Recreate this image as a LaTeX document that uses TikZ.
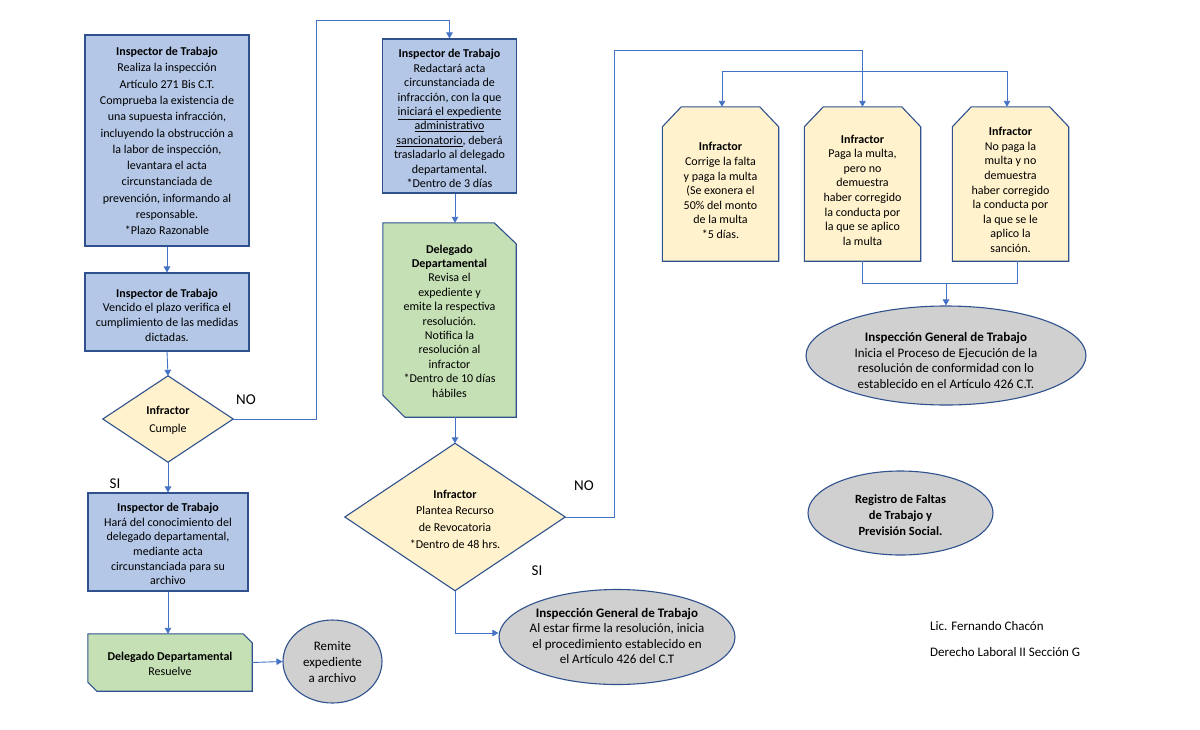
\documentclass[tikz,border=0pt]{standalone}
\usepackage{fontspec}
\setmainfont{Carlito}
\usetikzlibrary{arrows.meta,calc,shapes.geometric}
\definecolor{bluefill}{HTML}{B4C7E7}
\definecolor{greenfill}{HTML}{C5E0B4}
\definecolor{yellowfill}{HTML}{FFF2CC}
\definecolor{grayfill}{HTML}{D0D0D0}
\definecolor{edgeblue}{HTML}{2F528F}
\definecolor{connblue}{HTML}{4472C4}
\tikzset{
  every node/.style={font=\fontsize{12}{14.6}\selectfont},
  shapebox/.style={rectangle, inner sep=0pt, draw=none},
  bluebox/.style={rectangle, inner sep=0pt, draw=edgeblue, fill=bluefill, line width=1.1pt},
  grayell/.style={ellipse, inner sep=0pt, draw=edgeblue, fill=grayfill, line width=1.1pt},
  outline/.style={draw=edgeblue, line width=1.1pt, line join=miter},
  txt/.style={align=center, inner sep=0pt},
  conn/.style={draw=connblue, line width=0.9pt},
  arr/.style={conn, -{Triangle[length=6pt,width=6.5pt]}},
  lbl/.style={font=\fontsize{15}{16}\selectfont, inner sep=0pt}
}
\begin{document}
\begin{tikzpicture}[x=1pt,y=-1pt]
\useasboundingbox (0,0) rectangle (1200,729);

% ---------- left column ----------
\node[bluebox, minimum width=164, minimum height=211] (A) at (167,140.5) {};
\node[txt, font=\fontsize{12}{16.3}\selectfont] at (167,141) {\textbf{Inspector de Trabajo}\\Realiza la inspección\\Artículo 271 Bis C.T.\\Comprueba la existencia de\\una supuesta infracción,\\incluyendo la obstrucción a\\la labor de inspección,\\levantara el acta\\circunstanciada de\\prevención, informando al\\responsable.\\*Plazo Razonable};

\node[bluebox, minimum width=164, minimum height=78] (B) at (167,312) {};
\node[txt] at (167,315) {\textbf{Inspector de Trabajo}\\Vencido el plazo verifica el\\cumplimiento de las medidas\\dictadas.};

\node[shapebox, minimum width=130, minimum height=86] (C) at (168,419) {};
\draw[outline, fill=yellowfill] (C.north) -- (C.east) -- (C.south) -- (C.west) -- cycle;
\node[txt, font=\fontsize{12}{18}\selectfont] at (168,420) {\textbf{Infractor}\\Cumple};

\node[bluebox, minimum width=160, minimum height=98] (D) at (168,542) {};
\node[txt] at (168,544) {\textbf{Inspector de Trabajo}\\Hará del conocimiento del\\delegado departamental,\\mediante acta\\circunstanciada para su\\archivo};

\node[shapebox, minimum width=164, minimum height=57] (E) at (170,662.5) {};
\draw[outline, fill=greenfill] (E.north west) -- ($(E.north east)+(-9,0)$) -- ($(E.north east)+(0,9)$) -- (E.south east) -- ($(E.south west)+(9,0)$) -- ($(E.south west)+(0,-9)$) -- cycle;
\node[txt] at (170,664) {\textbf{Delegado Departamental}\\Resuelve};

\node[grayell, minimum width=99, minimum height=83] (F) at (332.5,661.5) {};
\node[txt, font=\fontsize{13}{16}\selectfont] at (332.5,662) {Remite\\expediente\\a archivo};

% ---------- middle column ----------
\node[bluebox, minimum width=134, minimum height=154] (G) at (449.5,116) {};
\node[txt, font=\fontsize{12}{14.4}\selectfont] at (449.5,118.5) {\textbf{Inspector de Trabajo}\\Redactará acta\\circunstanciada de\\infracción, con la que\\\underline{iniciará el expediente}\\\underline{administrativo}\\\underline{sancionatorio}, deberá\\trasladarlo al delegado\\departamental.\\*Dentro de 3 días};

\node[shapebox, minimum width=133, minimum height=194] (H) at (449.5,320) {};
\draw[outline, fill=greenfill] (H.north west) -- ($(H.north east)+(-22,0)$) -- ($(H.north east)+(0,21)$) -- (H.south east) -- ($(H.south west)+(22,0)$) -- ($(H.south west)+(0,-22)$) -- cycle;
\node[txt, font=\fontsize{12}{14.4}\selectfont] at (449.5,321) {\textbf{Delegado}\\\textbf{Departamental}\\Revisa el\\expediente y\\emite la respectiva\\resolución.\\Notifica la\\resolución al\\infractor\\*Dentro de 10 días\\hábiles};

\node[shapebox, minimum width=220, minimum height=147] (I) at (455,517) {};
\draw[outline, fill=yellowfill] (I.north) -- (I.east) -- (I.south) -- (I.west) -- cycle;
\node[txt, font=\fontsize{12}{16.7}\selectfont] at (455,519) {\textbf{Infractor}\\Plantea Recurso\\de Revocatoria\\*Dentro de 48 hrs.};

\node[grayell, minimum width=236, minimum height=95] (J) at (617,637) {};
\node[txt, font=\fontsize{13}{15.3}\selectfont] at (617,636) {\textbf{Inspección General de Trabajo}\\Al estar firme la resolución, inicia\\el procedimiento establecido en\\el Artículo 426 del C.T};

% ---------- right column ----------
\node[shapebox, minimum width=116, minimum height=154] (K1) at (720.5,184) {};
\node[shapebox, minimum width=116, minimum height=154] (K2) at (862.5,184) {};
\node[shapebox, minimum width=116, minimum height=154] (K3) at (1010.5,184) {};
\foreach \k in {K1,K2,K3}{
  \draw[outline, fill=yellowfill] ($(\k.north west)+(19,0)$) -- ($(\k.north east)+(-19,0)$) -- ($(\k.north east)+(0,20)$) -- (\k.south east) -- (\k.south west) -- ($(\k.north west)+(0,20)$) -- cycle;
}
\node[txt] at (720.5,190.5) {\textbf{Infractor}\\Corrige la falta\\y paga la multa\\(Se exonera el\\50\% del monto\\de la multa\\*5 días.};
\node[txt] at (862.5,190) {\textbf{Infractor}\\Paga la multa,\\pero no\\demuestra\\haber corregido\\la conducta por\\la que se aplico\\la multa};
\node[txt] at (1010.5,190) {\textbf{Infractor}\\No paga la\\multa y no\\demuestra\\haber corregido\\la conducta por\\la que se le\\aplico la\\sanción.};

\node[grayell, minimum width=280, minimum height=99] (L) at (946,355.5) {};
\node[txt, font=\fontsize{13}{15.7}\selectfont] at (946,360.5) {\textbf{Inspección General de Trabajo}\\Inicia el Proceso de Ejecución de la\\resolución de conformidad con lo\\establecido en el Artículo 426 C.T.};

\node[grayell, minimum width=185, minimum height=84] (M) at (900.5,513) {};
\node[txt, font=\fontsize{12.5}{16}\selectfont] at (900.5,515) {\textbf{Registro de Faltas}\\\textbf{de Trabajo y}\\\textbf{Previsión Social.}};

\node[anchor=west, inner sep=0pt, font=\fontsize{13}{15}\selectfont] (sig1) at (930,626) {Lic. Fernando Chacón};
\node[anchor=west, inner sep=0pt, font=\fontsize{13}{15}\selectfont] (sig2) at (930,652) {Derecho Laboral II Sección G};

% ---------- labels ----------
\node[lbl] (no1) at (246,400) {NO};
\node[lbl] (si1) at (115,484) {SI};
\node[lbl] (no2) at (584,486) {NO};
\node[lbl] (si2) at (537,571) {SI};

% ---------- connectors ----------
\draw[arr] (A.south) -- (B.north);
\draw[arr] (B.south) -- (C.north);
\draw[arr] (C.south) -- (D.north);
\draw[arr] (D.south) -- (E.north -| D.south);
\draw[arr] (E.east) -- (F.west);

\coordinate (n1) at (316,20);
\draw[arr] (C.east) -| (n1) -| (G.north);
\draw[arr] (G.south -| I.north) -- (H.north -| I.north);
\draw[arr] (H.south -| I.north) -- (I.north);

\coordinate (n3) at (455,633);
\draw[arr] (I.south) -- (n3) -- (n3 -| J.west);

\coordinate (n2) at (614,50);
\draw[arr] (I.east) -| (n2) -| (K2.north);
\coordinate (bus) at (722,71);
\coordinate (busr) at (1007,71);
\draw[conn] (bus) -- (busr);
\draw[arr] (bus) -- (bus |- K1.north);
\draw[arr] (busr) -- (busr |- K3.north);

\coordinate (m) at (946,283);
\draw[conn] (K2.south) |- (m);
\draw[conn] ([xshift=7]K3.south) |- (m);
\draw[arr] (m) -- (L.north);
\end{tikzpicture}
\end{document}
